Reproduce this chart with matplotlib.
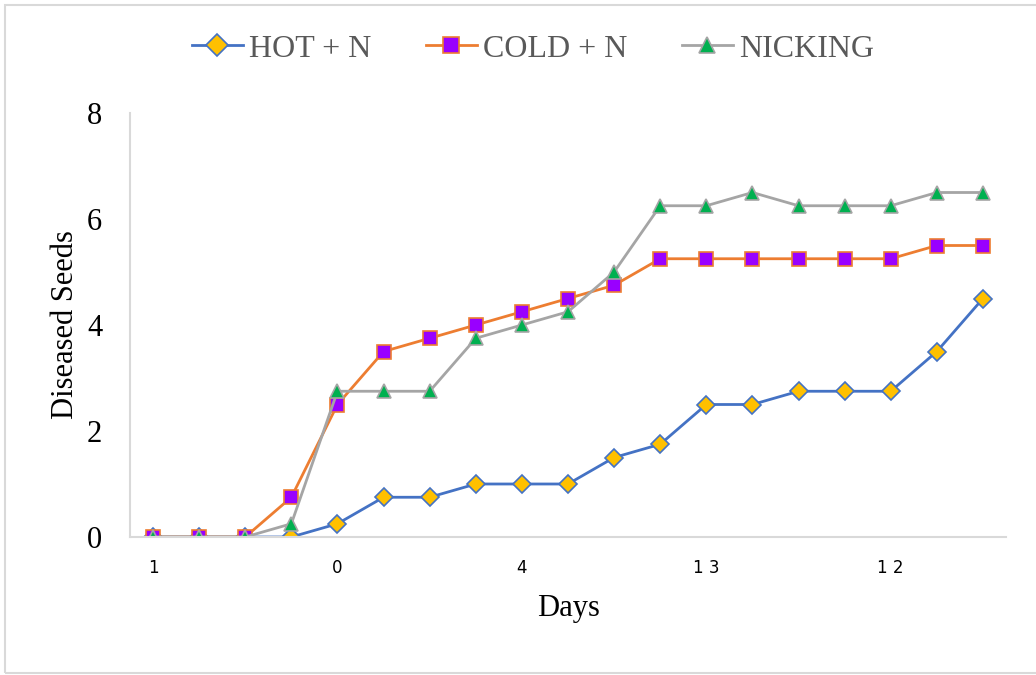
import matplotlib
matplotlib.use('Agg')
from matplotlib import pyplot as plt
from matplotlib.patches import Rectangle

days_labels=['1','0','4','1 3','1 2']
hot_n=[0,0,0,0,0.25,0.75,0.75,1,1,1,1.5,1.75,2.5,2.5,2.75,2.75,2.75,3.5,4.5]
cold_n=[0,0,0,0.75,2.5,3.5,3.75,4,4.25,4.5,4.75,5.25,5.25,5.25,5.25,5.25,5.25,5.5,5.5]
nicking=[0,0,0,0.25,2.75,2.75,2.75,3.75,4,4.25,5,6.25,6.25,6.5,6.25,6.25,6.25,6.5,6.5]

serif='Liberation Serif'

fig=plt.figure(figsize=(10.36,6.75),dpi=100)
fig.patches.append(Rectangle((5/1036,2/675),1.1,668/675,transform=fig.transFigure,
                             fill=False,edgecolor='#d9d9d9',linewidth=1.5))
ax=fig.add_axes([130/1036,138/675,876/1036,424/675])

x=list(range(len(hot_n)))
ax.plot(x,hot_n,color='#4472C4',linewidth=2,marker='D',markersize=9.5,
        markerfacecolor='#FFC000',markeredgecolor='#4472C4',markeredgewidth=1.2,label='HOT + N')
ax.plot(x,cold_n,color='#ED7D31',linewidth=2,marker='s',markersize=10.5,
        markerfacecolor='#9900FF',markeredgecolor='#ED7D31',markeredgewidth=1.2,label='COLD + N')
ax.plot(x,nicking,color='#A5A5A5',linewidth=2,marker='^',markersize=10.5,
        markerfacecolor='#00B050',markeredgecolor='#A5A5A5',markeredgewidth=1.2,label='NICKING')

ax.set_xlim(-0.5,len(x)-0.5)
ax.set_ylim(0,8)
ax.set_yticks([0,2,4,6,8])
ax.set_yticklabels(['0','2','4','6','8'],fontfamily=serif,fontsize=22)
ax.set_xticks(x[::4])
ax.set_xticklabels(days_labels,fontfamily='DejaVu Sans',fontsize=12)
ax.tick_params(length=0)
ax.tick_params(axis='y',pad=20)
ax.tick_params(axis='x',pad=16)

for s in ['top','right']:
    ax.spines[s].set_visible(False)
ax.spines['left'].set_color('#d9d9d9')
ax.spines['bottom'].set_color('#d9d9d9')
ax.spines['left'].set_linewidth(1.5)
ax.spines['bottom'].set_linewidth(1.5)

ax.set_xlabel('Days',fontfamily=serif,fontsize=22,labelpad=12)
ax.set_ylabel('Diseased Seeds',fontfamily=serif,fontsize=22,labelpad=5)

leg=fig.legend(loc='center',bbox_to_anchor=(533/1036,1-49/675),ncol=3,frameon=False,
               prop={'family':serif,'size':23},handlelength=1.6,columnspacing=1.7,handletextpad=0.2,
               markerscale=1.15)
for t in leg.get_texts():
    t.set_color('#595959')

fig.savefig('out.png',dpi=100)
